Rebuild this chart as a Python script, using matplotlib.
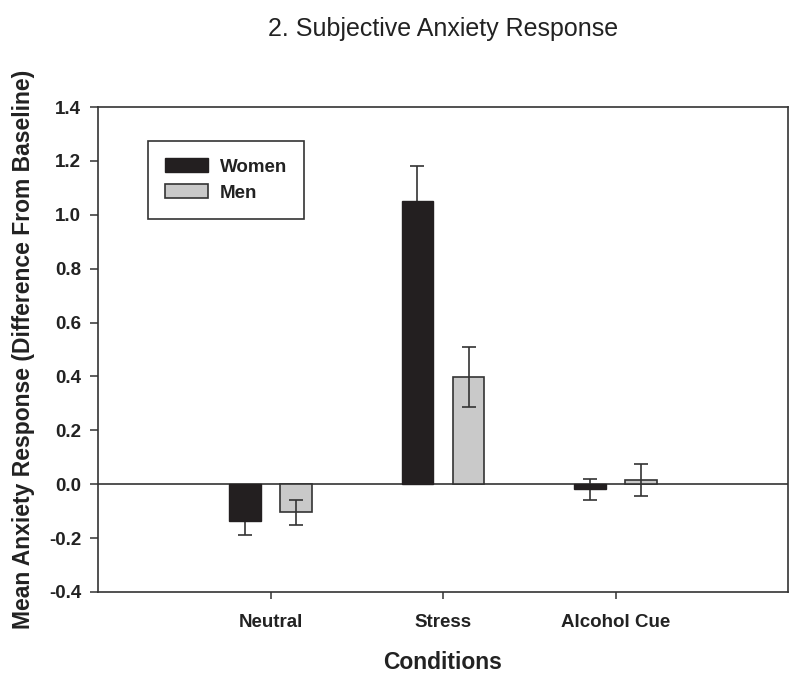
import numpy as np
import matplotlib
matplotlib.use('Agg')
import matplotlib.pyplot as plt

plt.rcParams.update({
    'font.family': ['Liberation Sans', 'DejaVu Sans'],
    'axes.linewidth': 1.2,
    'axes.edgecolor': '#333333',
})

conditions = ['Neutral', 'Stress', 'Alcohol Cue']
women = [-0.136, 1.05, -0.019]
women_err = [0.054, 0.13, 0.04]
men = [-0.105, 0.398, 0.015]
men_err = [0.047, 0.113, 0.059]

fig = plt.figure(figsize=(8, 6.76), dpi=100)
ax = fig.add_axes([0.1225, 0.1243, 0.8625, 0.7174])

x = np.arange(1, len(conditions) + 1)
w = 0.185
off = 0.148
err_kw = dict(ecolor='#333333', elinewidth=1.2, capsize=5, capthick=1.2)
# women's error bars sit behind the dark bars, men's are drawn on top
ax.bar(x - off, women, w, yerr=women_err, color='#231f20',
       edgecolor='#231f20', linewidth=1, label='Women',
       error_kw=dict(err_kw, zorder=1.5), zorder=2)
ax.bar(x + off, men, w, yerr=men_err, color='#c9c9c9',
       edgecolor='#333333', linewidth=1.2, label='Men',
       error_kw=dict(err_kw, zorder=3), zorder=2)
ax.axhline(0, color='#333333', lw=1.2, zorder=1)

ax.set_xlim(0, 4)
ax.set_ylim(-0.4, 1.4)
ax.set_yticks(np.arange(-0.4, 1.41, 0.2))
ax.set_yticklabels(['%.1f' % v for v in np.arange(-0.4, 1.41, 0.2)])
ax.set_xticks(x)
ax.set_xticklabels(conditions)
ax.tick_params(axis='y', direction='out', length=6, width=1.1,
               color='#333333', labelsize=13.5, pad=6)
ax.tick_params(axis='x', direction='out', length=5, width=1.1,
               color='#333333', labelsize=13.5, pad=11)
for lab in ax.get_xticklabels() + ax.get_yticklabels():
    lab.set_fontweight('bold')
    lab.set_color('#222222')

ax.set_xlabel('Conditions', fontsize=16.5, fontweight='bold',
              color='#222222', labelpad=14)
ax.set_ylabel('Mean Anxiety Response (Difference From Baseline)',
              fontsize=16.5, fontweight='bold', color='#222222', labelpad=10)
ax.set_title('2. Subjective Anxiety Response', fontsize=18, color='#222222',
             pad=51)

leg = ax.legend(loc='upper left', bbox_to_anchor=(0.072, 0.930),
                prop={'weight': 'bold', 'size': 13.5},
                frameon=True, fancybox=False, edgecolor='#333333',
                framealpha=1, handlelength=2.3, handleheight=0.8,
                handletextpad=0.65, borderpad=0.9, labelspacing=0.45,
                borderaxespad=0)
leg.get_frame().set_linewidth(1.2)
for t in leg.get_texts():
    t.set_color('#222222')

fig.savefig('out.png', dpi=100)
